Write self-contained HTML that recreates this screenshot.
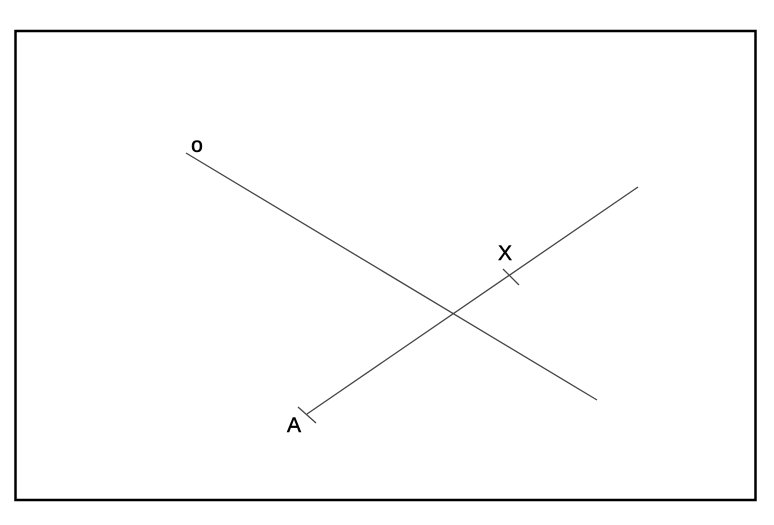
<!DOCTYPE html>
<html><head><style>
html,body{margin:0;padding:0;background:#fff;width:774px;height:525px;overflow:hidden}
</style></head><body>
<svg width="774" height="525" xmlns="http://www.w3.org/2000/svg">
<rect x="15.5" y="31" width="740" height="469" fill="#fff" stroke="#000" stroke-width="2.5"/>
<g stroke="#444" stroke-width="1.3" fill="none">
<line x1="186" y1="153" x2="597" y2="400"/>
<line x1="307" y1="414" x2="638" y2="187"/>
<line x1="298" y1="407" x2="316" y2="423"/>
<line x1="503" y1="269" x2="519" y2="285"/>
</g>
<g font-family="Liberation Sans, sans-serif" font-size="21" fill="#000" text-anchor="middle" stroke="#000" stroke-width="0.5">
<text x="197" y="152">o</text>
<text x="505" y="260">X</text>
<text x="294" y="432">A</text>
</g>
</svg>
</body></html>
